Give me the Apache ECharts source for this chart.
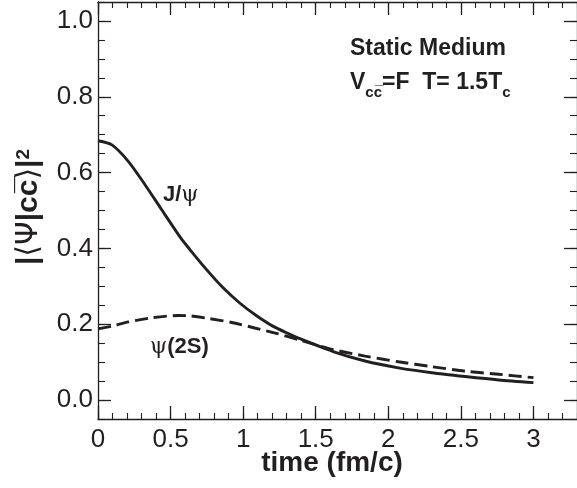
<!DOCTYPE html>
<html><head><meta charset="utf-8">
<script src="https://cdn.jsdelivr.net/npm/echarts@6/dist/echarts.min.js"></script>
<style>html,body{margin:0;padding:0;background:#fff}#c{width:577px;height:488px}</style>
</head><body><div id="c"></div>
<script>
// ---- data ----
const timeJpsi = [0, 0.096, 0.21, 0.324, 0.439, 0.571, 0.633, 0.748, 0.862, 0.976, 1.09, 1.204, 1.319, 1.39, 1.62, 1.84, 2.07, 2.30, 2.53, 2.76, 3.0];
const probJpsi = [0.684, 0.673, 0.629, 0.568, 0.502, 0.427, 0.397, 0.344, 0.296, 0.256, 0.223, 0.195, 0.174, 0.162, 0.128, 0.103, 0.085, 0.072, 0.062, 0.053, 0.046];
const timePsi2S = [0, 0.096, 0.21, 0.37, 0.553, 0.633, 0.75, 0.93, 1.08, 1.228, 1.39, 1.62, 1.84, 2.07, 2.30, 2.53, 2.76, 3.0];
const probPsi2S = [0.188, 0.195, 0.206, 0.217, 0.223, 0.222, 0.216, 0.204, 0.190, 0.176, 0.158, 0.133, 0.116, 0.101, 0.088, 0.076, 0.068, 0.059];
const xMajorTicks = [0, 0.5, 1, 1.5, 2, 2.5, 3];
const yMajorTicks = [0, 0.2, 0.4, 0.6, 0.8, 1.0];
const xRange = [0, 3.3];
const yRange = [-0.05, 1.05];
const xMinorStep = 0.1;
const yMinorStep = 0.05;

const FONT = '"Liberation Sans", Arial, Helvetica, sans-serif';
const INK = '#231f20';
const zip = (a, b) => a.map((v, i) => [v, b[i]]);

function xAx(pos, major) {
  return {
    type: 'value', position: pos, min: xRange[0], max: xRange[1],
    interval: major ? undefined : xMinorStep,
    axisLine: { show: !major, onZero: false, lineStyle: { color: INK, width: 1.3 } },
    axisTick: major ? { show: true, inside: true, length: 13, customValues: xMajorTicks, lineStyle: { color: INK, width: 1.3 } }
                    : { show: true, inside: true, length: 6, lineStyle: { color: INK, width: 1.1 } },
    axisLabel: (major && pos === 'bottom') ? { show: true, customValues: xMajorTicks, margin: 8, fontSize: 26, fontFamily: FONT, color: INK, formatter: v => String(v) } : { show: false },
    splitLine: { show: false }
  };
}
function yAx(pos, major) {
  return {
    type: 'value', position: pos, min: yRange[0], max: yRange[1],
    interval: major ? undefined : yMinorStep,
    axisLine: { show: !major, onZero: false, lineStyle: { color: INK, width: 1.3 } },
    axisTick: major ? { show: true, inside: true, length: 13, customValues: yMajorTicks, lineStyle: { color: INK, width: 1.3 } }
                    : { show: true, inside: true, length: 7, lineStyle: { color: INK, width: 1.1 } },
    axisLabel: (major && pos === 'left') ? { show: true, customValues: yMajorTicks, margin: 5, fontSize: 26, fontFamily: FONT, color: INK, formatter: v => v.toFixed(1) } : { show: false },
    splitLine: { show: false }
  };
}

const chart = echarts.init(document.getElementById('c'), null, { renderer: 'canvas' });
chart.setOption({
  animation: false,
  backgroundColor: '#fff',
  grid: { left: 98, top: 2, width: 481, height: 417, containLabel: false },
  xAxis: [xAx('bottom', false), xAx('bottom', true), xAx('top', false), xAx('top', true)],
  yAxis: [yAx('left', false), yAx('left', true), yAx('right', false), yAx('right', true)],
  series: [
    { name: 'J/psi', type: 'line', xAxisIndex: 0, yAxisIndex: 0, data: zip(timeJpsi, probJpsi),
      smooth: 0.25, showSymbol: false, lineStyle: { color: INK, width: 2.9 } },
    { name: 'psi(2S)', type: 'line', xAxisIndex: 0, yAxisIndex: 0, data: zip(timePsi2S, probPsi2S),
      smooth: 0.25, showSymbol: false, lineStyle: { color: INK, width: 2.9, type: [13, 6] } }
  ],
  graphic: [
    { type: 'text', x: 332, y: 463, style: { text: 'time (fm/c)', font: 'bold 28px ' + FONT, fill: INK, align: 'center', verticalAlign: 'middle' } },
    { type: 'text', x: 29, y: 207, rotation: Math.PI / 2,
      style: { text: '{b||}{t|\u27E8\u03A8}{b||cc\u0305}{t|\u27E9}{b||}{s|2}', align: 'center', verticalAlign: 'middle', fill: INK,
        rich: {
          b: { font: 'bold 30px ' + FONT, fill: INK },
          t: { font: '30px "DejaVu Sans", ' + FONT, fill: INK },
          s: { font: 'bold 19px ' + FONT, fill: INK, verticalAlign: 'top' }
        } } },
    { type: 'text', x: 350, y: 49, style: { text: 'Static Medium', font: 'bold 23px ' + FONT, fill: INK, align: 'left', verticalAlign: 'middle' } },
    { type: 'text', x: 350, y: 83, style: { text: '{m|V}{sub|cc\u0305}{m|=F  T= 1.5T}{sub|c}', align: 'left', verticalAlign: 'middle', fill: INK,
        rich: {
          m: { font: 'bold 23px ' + FONT, fill: INK },
          sub: { font: 'bold 15px ' + FONT, fill: INK, verticalAlign: 'bottom', padding: [0, 0, -6, 0] }
        } } },
    { type: 'text', x: 163, y: 195, style: { text: '{b|J/}{g|\u03C8}', align: 'left', verticalAlign: 'middle', fill: INK,
        rich: { b: { font: 'bold 22px ' + FONT, fill: INK }, g: { font: '22px "DejaVu Serif", serif', fill: INK } } } },
    { type: 'text', x: 150, y: 347, style: { text: '{g|\u03C8}{b|(2S)}', align: 'left', verticalAlign: 'middle', fill: INK,
        rich: { b: { font: 'bold 22px ' + FONT, fill: INK }, g: { font: '22px "DejaVu Serif", serif', fill: INK } } } }
  ]
});
</script></body></html>
